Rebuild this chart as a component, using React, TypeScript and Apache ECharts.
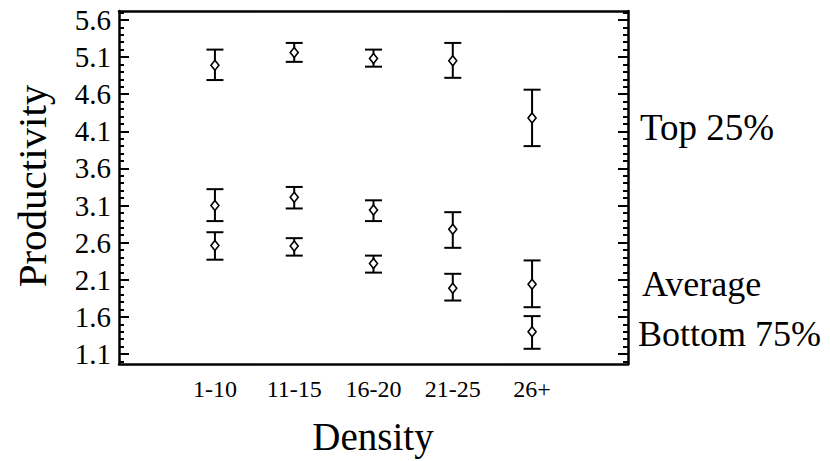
import React, { useEffect, useRef } from "react";
import * as echarts from "echarts";

const categories = ["1-10", "11-15", "16-20", "21-25", "26+"];
const seriesNames = ["Top 25%", "Average", "Bottom 75%"];
const topMean = [4.99, 5.16, 5.08, 5.05, 4.28];
const topLow = [4.79, 5.035, 4.97, 4.82, 3.9];
const topHigh = [5.2, 5.29, 5.2, 5.29, 4.66];
const avgMean = [3.1, 3.21, 3.04, 2.78, 2.04];
const avgLow = [2.89, 3.06, 2.89, 2.53, 1.73];
const avgHigh = [3.32, 3.35, 3.17, 3.01, 2.36];
const botMean = [2.56, 2.555, 2.32, 1.985, 1.4];
const botLow = [2.37, 2.425, 2.196, 1.82, 1.17];
const botHigh = [2.74, 2.66, 2.425, 2.18, 1.61];
const yTickLabels = [1.1, 1.6, 2.1, 2.6, 3.1, 3.6, 4.1, 4.6, 5.1, 5.6];

const FONT = "Liberation Serif";

export default function App() {
  const ref = useRef<HTMLDivElement>(null);
  useEffect(() => {
    if (!ref.current) return;
    const chart = echarts.init(ref.current, undefined, { renderer: "svg" });
    const minorTicks: number[] = [];
    for (let i = 10; i <= 57; i++) {
      const v = i / 10;
      if (!yTickLabels.some((m) => Math.abs(m - v) < 1e-6)) minorTicks.push(v);
    }
    const yMin = 0.965;
    const yMax = 5.72;
    const mk = (mean: number[], low: number[], high: number[]) =>
      mean.map((m, i) => [i, m, low[i], high[i]]);
    const renderItem = (params: any, api: any) => {
      const x = api.value(0);
      const c = api.coord([x, api.value(1)]);
      const lo = api.coord([x, api.value(2)]);
      const hi = api.coord([x, api.value(3)]);
      const cw = 8.5;
      const dw = 4;
      const dh = 5;
      const ls = { stroke: "#000", lineWidth: 2 };
      return {
        type: "group",
        children: [
          { type: "line", shape: { x1: c[0], y1: hi[1], x2: c[0], y2: lo[1] }, style: ls },
          { type: "line", shape: { x1: c[0] - cw, y1: hi[1], x2: c[0] + cw, y2: hi[1] }, style: ls },
          { type: "line", shape: { x1: c[0] - cw, y1: lo[1], x2: c[0] + cw, y2: lo[1] }, style: ls },
          {
            type: "polygon",
            shape: {
              points: [
                [c[0], c[1] - dh],
                [c[0] + dw, c[1]],
                [c[0], c[1] + dh],
                [c[0] - dw, c[1]],
              ],
            },
            style: { fill: "#fff", stroke: "#000", lineWidth: 1.6 },
          },
        ],
      };
    };
    const yBase = { type: "value", min: yMin, max: yMax, splitLine: { show: false } };
    const tickStyle = { color: "#000", width: 2 };
    const lineStyle = { color: "#000", width: 2.5 };
    chart.setOption({
      animation: false,
      backgroundColor: "#fff",
      grid: { left: 119, top: 11, right: 202, bottom: 97 },
      xAxis: [
        {
          type: "value",
          position: "bottom",
          min: -1.21,
          max: 5.21,
          splitLine: { show: false },
          axisLine: { show: true, onZero: false, lineStyle },
          axisTick: { show: false },
          axisLabel: {
            customValues: [0, 1, 2, 3, 4],
            formatter: (v: number) => "{x|" + (categories[Math.round(v)] ?? "") + "}",
            rich: { x: { fontSize: 24, fontFamily: FONT, color: "#000" } },
            color: "#000",
            fontFamily: FONT,
            fontSize: 24,
            margin: 13,
          },
        },
        {
          type: "value",
          position: "top",
          min: -1.21,
          max: 5.21,
          splitLine: { show: false },
          axisLine: { show: true, onZero: false, lineStyle },
          axisTick: { show: false },
          axisLabel: { show: false },
        },
      ],
      yAxis: [
        {
          ...yBase,
          position: "left",
          axisLine: { show: true, onZero: false, lineStyle },
          axisTick: { show: true, inside: true, length: 10, customValues: yTickLabels, lineStyle: tickStyle },
          axisLabel: {
            show: true,
            customValues: yTickLabels,
            formatter: (v: number) => "{y|" + v.toFixed(1) + "}",
            rich: { y: { fontSize: 29, fontFamily: FONT, color: "#000" } },
            color: "#000",
            fontFamily: FONT,
            fontSize: 29,
            margin: 8,
          },
        },
        {
          ...yBase,
          position: "left",
          axisLine: { show: false, onZero: false },
          axisTick: { show: true, inside: true, length: 5, customValues: minorTicks, lineStyle: tickStyle },
          axisLabel: { show: false },
        },
        {
          ...yBase,
          position: "right",
          axisLine: { show: true, onZero: false, lineStyle },
          axisTick: { show: true, inside: true, length: 10, customValues: yTickLabels, lineStyle: tickStyle },
          axisLabel: { show: false },
        },
        {
          ...yBase,
          position: "right",
          axisLine: { show: false, onZero: false },
          axisTick: { show: true, inside: true, length: 5, customValues: minorTicks, lineStyle: tickStyle },
          axisLabel: { show: false },
        },
      ],
      series: [
        { name: seriesNames[0], type: "custom", renderItem, data: mk(topMean, topLow, topHigh), xAxisIndex: 0, yAxisIndex: 0 },
        { name: seriesNames[1], type: "custom", renderItem, data: mk(avgMean, avgLow, avgHigh), xAxisIndex: 0, yAxisIndex: 0 },
        { name: seriesNames[2], type: "custom", renderItem, data: mk(botMean, botLow, botHigh), xAxisIndex: 0, yAxisIndex: 0 },
      ],
      graphic: [
        {
          type: "text",
          x: 32,
          y: 186,
          rotation: Math.PI / 2,
          style: { text: "Productivity", fill: "#000", fontFamily: FONT, fontSize: 41, align: "center", verticalAlign: "middle" },
        },
        {
          type: "text",
          x: 373,
          y: 436,
          style: { text: "Density", fill: "#000", fontFamily: FONT, fontSize: 39, align: "center", verticalAlign: "middle" },
        },
        {
          type: "text",
          x: 640,
          y: 127,
          style: { text: seriesNames[0], fill: "#000", fontFamily: FONT, fontSize: 37, align: "left", verticalAlign: "middle" },
        },
        {
          type: "text",
          x: 642,
          y: 284,
          style: { text: seriesNames[1], fill: "#000", fontFamily: FONT, fontSize: 36, align: "left", verticalAlign: "middle" },
        },
        {
          type: "text",
          x: 638,
          y: 334,
          style: { text: seriesNames[2], fill: "#000", fontFamily: FONT, fontSize: 36, align: "left", verticalAlign: "middle" },
        },
      ],
    });
    return () => chart.dispose();
  }, []);
  return <div ref={ref} style={{ position: "fixed", left: 0, top: 0, width: 830, height: 461 }} />;
}
